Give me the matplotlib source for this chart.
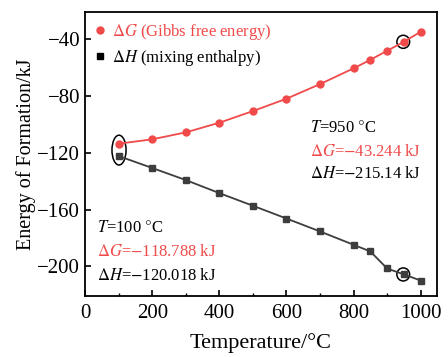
import numpy as np
import matplotlib
matplotlib.use('Agg')
import matplotlib.pyplot as plt
from matplotlib.patches import Ellipse
from matplotlib.lines import Line2D

# data
temp = [100, 200, 300, 400, 500, 600, 700, 800, 850, 900, 950, 1000]
dG = [-113.5, -110.4, -105.5, -98.7, -90.5, -81.8, -71.5, -60.4, -54.4, -48.0, -41.7, -34.6]
dH = [-122.2, -130.6, -139.1, -148.3, -157.2, -166.2, -175.3, -184.7, -189.4, -201.4, -205.6, -209.9]

red = '#f04a4a'
dark = '#3d3d3d'

plt.rcParams['font.family'] = ['Liberation Serif', 'DejaVu Serif']
plt.rcParams['mathtext.fontset'] = 'stix'

fig = plt.figure(figsize=(4.48, 3.57), dpi=100)
ax = fig.add_axes([0.190, 0.172, 0.785, 0.794])

ax.plot(temp, dG, '-o', color=red, lw=1.3, ms=5)
ax.plot(temp, dH, '-s', color=dark, lw=1.3, ms=4.5)

# highlight marks
ax.add_patch(Ellipse((101, -118), 42, 21, fill=False, ec='black', lw=1.1))
ax.add_patch(Ellipse((948, -41.7), 38, 9.2, fill=False, ec='black', lw=1.1))
ax.add_patch(Ellipse((948, -205.6), 38, 9.2, fill=False, ec='black', lw=1.1))

ax.set_xlim(0, 1048)
ax.set_ylim(-220.5, -20.8)
ax.set_xticks([0, 200, 400, 600, 800, 1000])
ax.set_xticks([100, 300, 500, 700, 900], minor=True)
ax.set_yticks([-200, -160, -120, -80, -40])
ax.set_yticklabels(['\u2212200', '\u2212160', '\u2212120', '\u221280', '\u221240'])
ax.tick_params(direction='in', labelsize=15, length=4, width=1.2)
ax.tick_params(axis='x', pad=6)
ax.tick_params(which='minor', direction='in', length=2.5, width=1.0)
for s in ax.spines.values():
    s.set_linewidth(1.3)

ax.set_xlabel('Temperature/\u00b0C', fontsize=16, labelpad=7)
ax.set_ylabel('Energy of Formation/kJ', fontsize=14.5, labelpad=1)

handles = [Line2D([], [], ls='none', marker='o', color=red, ms=5),
           Line2D([], [], ls='none', marker='s', color='black', ms=4.5)]
leg = ax.legend(handles, [r'$\Delta G$ (Gibbs free energy)', r'$\Delta H$ (mixing enthalpy)'],
                loc='upper left', frameon=False, fontsize=12, handlelength=0.6,
                handletextpad=0.4, borderaxespad=0.2, labelspacing=0.35,
                bbox_to_anchor=(0.0, 1.0))
leg.get_texts()[0].set_color(red)

ax.text(0.639, 0.591, r'$T$=950 $\degree$C', transform=ax.transAxes, fontsize=12, va='center')
ax.text(0.639, 0.507, r'$\Delta G$=$-$43.244 kJ', transform=ax.transAxes, fontsize=12, va='center', color=red)
ax.text(0.639, 0.429, r'$\Delta H$=$-$215.14 kJ', transform=ax.transAxes, fontsize=12, va='center')

ax.text(0.034, 0.239, r'$T$=100 $\degree$C', transform=ax.transAxes, fontsize=12, va='center')
ax.text(0.034, 0.154, r'$\Delta G$=$-$118.788 kJ', transform=ax.transAxes, fontsize=12, va='center', color=red)
ax.text(0.034, 0.069, r'$\Delta H$=$-$120.018 kJ', transform=ax.transAxes, fontsize=12, va='center')

fig.savefig('out.png', dpi=100)
